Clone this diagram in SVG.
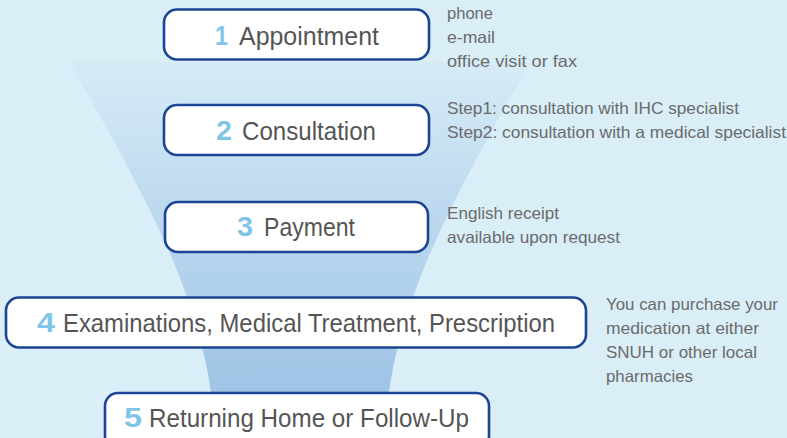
<svg xmlns="http://www.w3.org/2000/svg" width="787" height="438" viewBox="0 0 787 438">
<defs>
<linearGradient id="fg" x1="0" y1="62" x2="0" y2="438" gradientUnits="userSpaceOnUse">
<stop offset="0" stop-color="#d6ebf6"/>
<stop offset="0.35" stop-color="#c0dbf0"/>
<stop offset="1" stop-color="#97bee3"/>
</linearGradient>
<style>
.box{fill:#ffffff;stroke:#1b4594;stroke-width:2.6}
.num{font-family:"Liberation Sans",Arial,sans-serif;font-weight:bold;font-size:27px;fill:#7ec5e8}
.lbl{font-family:"Liberation Sans",Arial,sans-serif;font-size:25px;fill:#555555}
.side{font-family:"Liberation Sans",Arial,sans-serif;font-size:16.5px;fill:#6b6b6b}
</style>
</defs>
<rect x="0" y="0" width="787" height="438" fill="#d9eef7"/>
<path id="funnel" d="M70,62 L530,62 C464,182 386,308 386,438 L214,438 C214,308 136,182 70,62 Z" fill="url(#fg)"/>
<g id="connectors"></g>
<g id="node1">
<rect class="box" x="164" y="9.5" width="265" height="50" rx="13"/>
<text class="num" x="215" y="44.5" textLength="13" lengthAdjust="spacingAndGlyphs">1</text>
<text class="lbl" x="239" y="44.5" textLength="140" lengthAdjust="spacingAndGlyphs">Appointment</text>
</g>
<g id="node2">
<rect class="box" x="164" y="105" width="265" height="50" rx="13"/>
<text class="num" x="216" y="140" textLength="16" lengthAdjust="spacingAndGlyphs">2</text>
<text class="lbl" x="242" y="140" textLength="134" lengthAdjust="spacingAndGlyphs">Consultation</text>
</g>
<g id="node3">
<rect class="box" x="165" y="202" width="263" height="50" rx="13"/>
<text class="num" x="237" y="236" textLength="16" lengthAdjust="spacingAndGlyphs">3</text>
<text class="lbl" x="264" y="236" textLength="91" lengthAdjust="spacingAndGlyphs">Payment</text>
</g>
<g id="node4">
<rect class="box" x="6" y="297.5" width="580" height="50" rx="13"/>
<text class="num" x="37" y="332" textLength="18" lengthAdjust="spacingAndGlyphs">4</text>
<text class="lbl" x="63" y="332" textLength="492" lengthAdjust="spacingAndGlyphs">Examinations, Medical Treatment, Prescription</text>
</g>
<g id="node5">
<rect class="box" x="105" y="393" width="384" height="56" rx="13"/>
<text class="num" x="124" y="427" textLength="18" lengthAdjust="spacingAndGlyphs">5</text>
<text class="lbl" x="149" y="427" textLength="320" lengthAdjust="spacingAndGlyphs">Returning Home or Follow-Up</text>
</g>
<g id="notes1">
<text class="side" x="447" y="19" textLength="46" lengthAdjust="spacingAndGlyphs">phone</text>
<text class="side" x="447" y="43" textLength="48" lengthAdjust="spacingAndGlyphs">e-mail</text>
<text class="side" x="447" y="67" textLength="130" lengthAdjust="spacingAndGlyphs">office visit or fax</text>
</g>
<g id="notes2">
<text class="side" x="447" y="114" textLength="292" lengthAdjust="spacingAndGlyphs">Step1: consultation with IHC specialist</text>
<text class="side" x="447" y="138" textLength="339" lengthAdjust="spacingAndGlyphs">Step2: consultation with a medical specialist</text>
</g>
<g id="notes3">
<text class="side" x="447" y="219" textLength="112" lengthAdjust="spacingAndGlyphs">English receipt</text>
<text class="side" x="447" y="243" textLength="173" lengthAdjust="spacingAndGlyphs">available upon request</text>
</g>
<g id="notes4">
<text class="side" x="606" y="310" textLength="172" lengthAdjust="spacingAndGlyphs">You can purchase your</text>
<text class="side" x="606" y="334" textLength="153" lengthAdjust="spacingAndGlyphs">medication at either</text>
<text class="side" x="606" y="358" textLength="151" lengthAdjust="spacingAndGlyphs">SNUH or other local</text>
<text class="side" x="606" y="382" textLength="87" lengthAdjust="spacingAndGlyphs">pharmacies</text>
</g>
</svg>
